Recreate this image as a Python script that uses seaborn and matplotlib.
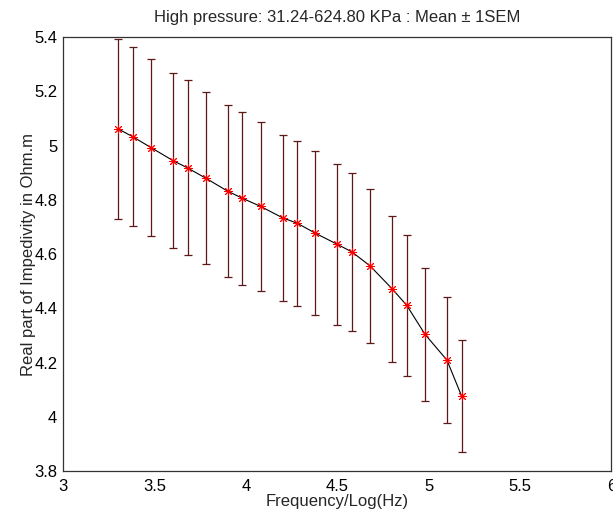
import matplotlib
matplotlib.use("Agg")
import matplotlib.pyplot as plt
import seaborn as sns
import pandas as pd

log_freq = [3.30, 3.38, 3.48, 3.60, 3.68, 3.78, 3.90, 3.98, 4.08, 4.20,
            4.28, 4.38, 4.50, 4.58, 4.68, 4.80, 4.88, 4.98, 5.10, 5.18]
mean_real = [5.062, 5.033, 4.993, 4.945, 4.918, 4.880, 4.832, 4.806, 4.776, 4.734,
             4.714, 4.677, 4.636, 4.608, 4.556, 4.472, 4.411, 4.304, 4.209, 4.077]
sem_real = [0.333, 0.331, 0.328, 0.322, 0.323, 0.318, 0.317, 0.320, 0.312, 0.307,
            0.305, 0.302, 0.296, 0.290, 0.283, 0.270, 0.261, 0.244, 0.231, 0.208]

xticks = [3, 3.5, 4, 4.5, 5, 5.5, 6]
xtick_labels = ["3", "3.5", "4", "4.5", "5", "5.5", "6"]
yticks = [3.8, 4.0, 4.2, 4.4, 4.6, 4.8, 5.0, 5.2, 5.4]
ytick_labels = ["3.8", "4", "4.2", "4.4", "4.6", "4.8", "5", "5.2", "5.4"]

df = pd.DataFrame({"freq": log_freq, "mean": mean_real, "sem": sem_real})

sns.set_style("white")
plt.rcParams["font.family"] = ["Liberation Sans", "DejaVu Sans"]

fig = plt.figure(figsize=(6.13, 5.17), dpi=100)
ax = fig.add_axes([0.1033, 0.089, 0.894, 0.839])

ax.errorbar(df["freq"], df["mean"], yerr=df["sem"], fmt="none",
            ecolor="#5e1818", elinewidth=0.9, capsize=2.6, capthick=0.9, zorder=2)
sns.lineplot(data=df, x="freq", y="mean", color="black", linewidth=0.8,
             ax=ax, zorder=3, errorbar=None)
ax.plot(df["freq"], df["mean"], linestyle="none", marker=(8, 2, 0),
        markersize=6.5, markeredgecolor="red", markeredgewidth=0.7, zorder=4)

ax.set_xlim(3, 6)
ax.set_ylim(3.8, 5.4)
ax.set_xticks(xticks)
ax.set_xticklabels(xtick_labels)
ax.set_yticks(yticks)
ax.set_yticklabels(ytick_labels)
ax.tick_params(direction="in", length=2.3, width=0.8, top=False, right=False,
               labelsize=12, colors="black")
ax.tick_params(axis="x", pad=5.5)
ax.tick_params(axis="y", pad=4.3)
for s in ax.spines.values():
    s.set_visible(True)
    s.set_color("#333333")
    s.set_linewidth(0.9)

ax.set_xlabel("Frequency/Log(Hz)", fontsize=12, labelpad=0.5)
ax.set_ylabel("Real part of Impedivity in Ohm.m", fontsize=12, labelpad=-1.5)
ax.set_title("High pressure: 31.24-624.80 KPa : Mean \u00b1 1SEM", fontsize=12, pad=10.8)

fig.savefig("out.png", dpi=100)
